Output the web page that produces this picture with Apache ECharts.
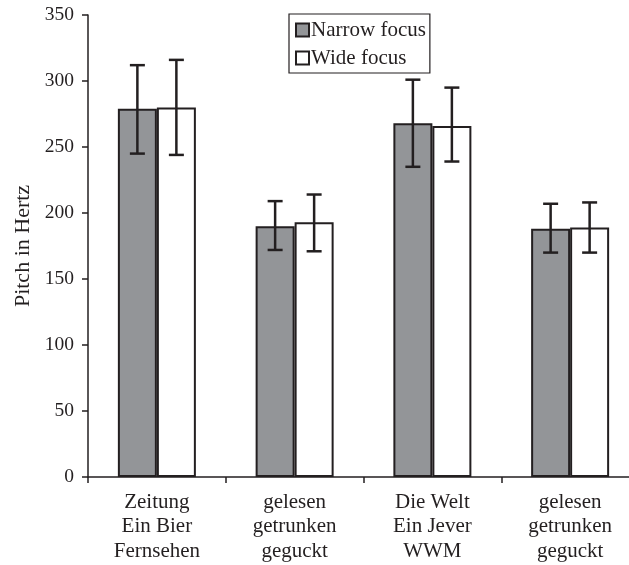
<!DOCTYPE html>
<html>
<head>
<meta charset="utf-8">
<script src="https://cdn.jsdelivr.net/npm/echarts@6/dist/echarts.min.js"></script>
<style>
  html, body { margin: 0; padding: 0; background: #fff; overflow: hidden; }
  #chart { width: 640px; height: 565px; }
</style>
</head>
<body>
<div id="chart"></div>
<script>
// Sentence items (three-line category labels)
const categories = [
  'Zeitung\nEin Bier\nFernsehen',
  'gelesen\ngetrunken\ngeguckt',
  'Die Welt\nEin Jever\nWWM',
  'gelesen\ngetrunken\ngeguckt'
];
const seriesNames = ['Narrow focus', 'Wide focus'];

// Mean pitch (Hz)
const narrowMean = [279, 190, 268, 188];
const wideMean   = [280, 193, 266, 189];

// Error bar ranges (Hz)
const narrowLow  = [245, 172, 235, 170];
const narrowHigh = [312, 209, 301, 207];
const wideLow    = [244, 171, 239, 170];
const wideHigh   = [316, 214, 295, 208];

const yTicks = { min: 0, max: 350, interval: 50 };

const INK = '#231f20';
const GRAY = '#939598';
const FONT = 'Liberation Serif';
const BAR_W = 39;
const CAP_W = 15;

function errorRenderer(lows, highs, side) {
  return function (params, api) {
    const i = api.value(0);
    const center = api.coord([i, 0])[0] + side * BAR_W / 2;
    const top = api.coord([i, highs[i]])[1];
    const bot = api.coord([i, lows[i]])[1];
    const style = { stroke: INK, lineWidth: 2.5, fill: null };
    return {
      type: 'group',
      children: [
        { type: 'line', shape: { x1: center, y1: top, x2: center, y2: bot }, style },
        { type: 'line', shape: { x1: center - CAP_W / 2, y1: top, x2: center + CAP_W / 2, y2: top }, style },
        { type: 'line', shape: { x1: center - CAP_W / 2, y1: bot, x2: center + CAP_W / 2, y2: bot }, style }
      ]
    };
  };
}

const chart = echarts.init(document.getElementById('chart'), null, { renderer: 'canvas' });
chart.setOption({
  animation: false,
  backgroundColor: '#fff',
  textStyle: { fontFamily: FONT, color: INK },
  grid: { left: 88, top: 15, width: 551, height: 462 },
  legend: {
    data: seriesNames,
    orient: 'vertical',
    left: 289,
    top: 14,
    padding: [5, 4, 4, 6],
    itemGap: 6,
    itemWidth: 13,
    itemHeight: 13,
    icon: 'rect',
    borderColor: INK,
    borderWidth: 1.2,
    textStyle: { fontFamily: FONT, fontSize: 21, lineHeight: 22, color: INK, padding: [0, 0, 0, -3] }
  },
  xAxis: {
    type: 'category',
    data: categories,
    axisLine: { lineStyle: { color: INK, width: 1.5 } },
    axisTick: { show: true, length: 6, lineStyle: { color: INK, width: 1.5 } },
    axisLabel: { fontFamily: FONT, fontSize: 21, color: INK, lineHeight: 24.5, margin: 13, interval: 0 }
  },
  yAxis: {
    type: 'value',
    min: yTicks.min,
    max: yTicks.max,
    interval: yTicks.interval,
    name: 'Pitch in Hertz',
    nameLocation: 'middle',
    nameGap: 53,
    nameTextStyle: { fontFamily: FONT, fontSize: 22, color: INK },
    splitLine: { show: false },
    axisLine: { show: true, lineStyle: { color: INK, width: 1.5 } },
    axisTick: { show: true, length: 6, lineStyle: { color: INK, width: 1.5 } },
    axisLabel: { fontFamily: FONT, fontSize: 19.5, color: INK, margin: 14 }
  },
  series: [
    {
      name: seriesNames[0],
      type: 'bar',
      data: narrowMean,
      barWidth: BAR_W,
      barGap: '0%',
      itemStyle: { color: GRAY, borderColor: INK, borderWidth: 2 }
    },
    {
      name: seriesNames[1],
      type: 'bar',
      data: wideMean,
      barWidth: BAR_W,
      barGap: '0%',
      itemStyle: { color: '#ffffff', borderColor: INK, borderWidth: 2 }
    },
    {
      type: 'custom',
      renderItem: errorRenderer(narrowLow, narrowHigh, -1),
      data: categories.map((c, i) => [i]),
      encode: { x: 0 },
      z: 5
    },
    {
      type: 'custom',
      renderItem: errorRenderer(wideLow, wideHigh, 1),
      data: categories.map((c, i) => [i]),
      encode: { x: 0 },
      z: 5
    }
  ]
});
</script>
</body>
</html>
